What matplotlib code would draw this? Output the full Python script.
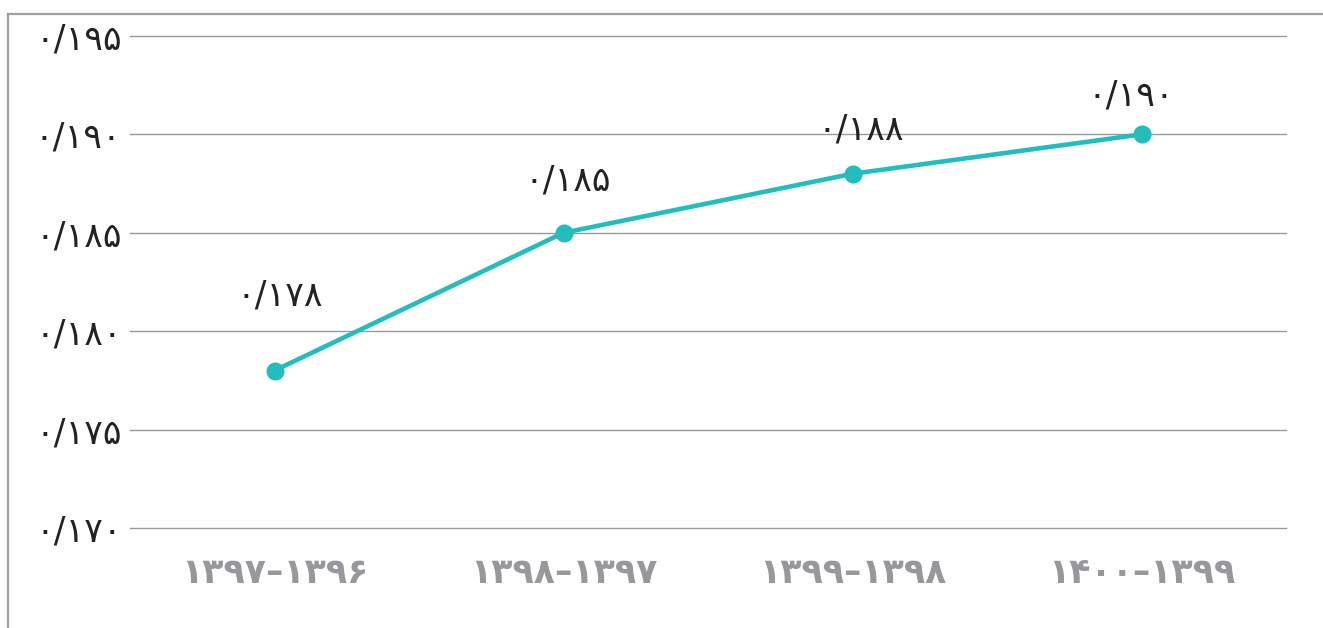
import matplotlib.pyplot as plt
from matplotlib.lines import Line2D

# data
periods = ['۱۳۹۷–۱۳۹۶', '۱۳۹۸–۱۳۹۷', '۱۳۹۹–۱۳۹۸', '۱۴۰۰–۱۳۹۹']
values = [0.178, 0.185, 0.188, 0.190]
value_labels = ['۰/۱۷۸', '۰/۱۸۵', '۰/۱۸۸', '۰/۱۹۰']
yticks = [0.170, 0.175, 0.180, 0.185, 0.190, 0.195]
ytick_labels = ['۰/۱۷۰', '۰/۱۷۵', '۰/۱۸۰', '۰/۱۸۵', '۰/۱۹۰', '۰/۱۹۵']

plt.rcParams['font.family'] = ['DejaVu Sans']

fig = plt.figure(figsize=(13.23, 6.28), dpi=100)
ax = fig.add_axes([130/1323, 0.1592, 0.8738, 0.7835])

x = list(range(len(values)))
ax.plot(x, values, color='#22BDBD', lw=3.3, marker='o', ms=12, zorder=3)

# label offsets in points above each point
offsets = [(4, 54), (3, 38), (6, 32), (-8, 28)]
for xi, v, lab, off in zip(x, values, value_labels, offsets):
    ax.annotate(lab, (xi, v), xytext=off, textcoords='offset points',
                ha='center', va='center', fontsize=25, color='#222222')

ax.set_xlim(-0.5, 3.5)
ax.set_ylim(0.170, 0.195)
ax.set_yticks(yticks)
ax.set_yticklabels(ytick_labels, fontsize=25, color='#222222')
ax.set_xticks(x)
ax.set_xticklabels(periods, fontsize=25, fontweight='bold', color='#97989C')
for lab in ax.get_xticklabels():
    lab.set_x(lab.get_position()[0])
ax.tick_params(axis='both', length=0)
ax.tick_params(axis='y', pad=6)
ax.tick_params(axis='x', pad=20)
ax.grid(axis='y', color='#9A9A9A', lw=1)
for gl in ax.get_ygridlines():
    gl.set_clip_on(False)
ax.set_axisbelow(True)
for s in ax.spines.values():
    s.set_visible(False)

# outer frame (top and left)
fig.add_artist(Line2D([8/1323, 1], [1 - 14/628, 1 - 14/628], color='#A0A0A0', lw=1.6,
                      transform=fig.transFigure))
fig.add_artist(Line2D([8/1323, 8/1323], [0, 1 - 14/628], color='#A0A0A0', lw=1.6,
                      transform=fig.transFigure))

fig.savefig('out.png', dpi=100)
